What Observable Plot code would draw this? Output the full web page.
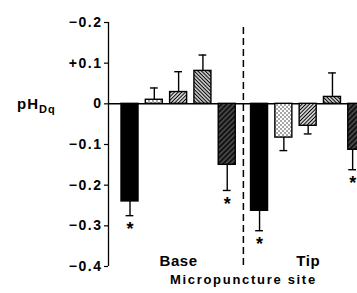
<!DOCTYPE html>
<html><head><meta charset="utf-8">
<script src="https://cdn.jsdelivr.net/npm/d3@7"></script>
<script src="https://cdn.jsdelivr.net/npm/@observablehq/plot@0.6"></script>
<style>
html,body{margin:0;padding:0;background:#fff;overflow:hidden}
#chart svg{display:block}
</style></head>
<body>
<svg width="0" height="0" style="position:absolute">
<defs>
 <pattern id="dots" width="4" height="4" patternUnits="userSpaceOnUse">
  <rect width="4" height="4" fill="#fff"/>
  <circle cx="1" cy="1" r="0.65" fill="#000"/>
  <circle cx="3" cy="3" r="0.65" fill="#000"/>
 </pattern>
 <pattern id="hatchR" width="2.6" height="2.6" patternUnits="userSpaceOnUse" patternTransform="rotate(45)">
  <rect width="2.6" height="2.6" fill="#fff"/>
  <line x1="1.3" y1="0" x2="1.3" y2="2.6" stroke="#000" stroke-width="1.2"/>
 </pattern>
 <pattern id="hatchL" width="2.6" height="2.6" patternUnits="userSpaceOnUse" patternTransform="rotate(-45)">
  <rect width="2.6" height="2.6" fill="#fff"/>
  <line x1="1.3" y1="0" x2="1.3" y2="2.6" stroke="#000" stroke-width="1.3"/>
 </pattern>
 <pattern id="dark" width="3.6" height="3.6" patternUnits="userSpaceOnUse" patternTransform="rotate(45)">
  <rect width="3.6" height="3.6" fill="#111"/>
  <line x1="1.8" y1="0" x2="1.8" y2="3.6" stroke="#999" stroke-width="0.7"/>
 </pattern>
</defs></svg>
<div id="chart"></div>
<script>
const sites = ["Base", "Tip"];
const treatments = ["solid", "stippled", "hatched", "backhatched", "dark"];
const fills = ["#000", "url(#dots)", "url(#hatchR)", "url(#hatchL)", "url(#dark)"];
const baseMeans = [-0.240, 0.010, 0.029, 0.081, -0.150];
const baseErrors = [0.035, 0.029, 0.050, 0.039, 0.063];
const baseSignificant = [true, false, false, false, true];
const tipMeans = [-0.263, -0.083, -0.054, 0.017, -0.113];
const tipErrors = [0.049, 0.032, 0.020, 0.059, 0.049];
const tipSignificant = [true, false, false, false, true];
const yTicks = [0.2, 0.1, 0, -0.1, -0.2, -0.3, -0.4];
const yTickLabels = ["\u22120.2", "+0.1", "0", "\u22120.1", "\u22120.2", "\u22120.3", "\u22120.4"];
const xLabel = "Micropuncture site";

const groupStride = 5.33;
const barHalf = 0.35, capHalf = 0.16;
const xDomain = [-0.885, 9.36];
const divider = (4 + groupStride) / 2;
// error bars and stars are kept inside the visible plot area
const markX = d => Math.min(d.pos, xDomain[1] - 0.2);

const meansBySite = [baseMeans, tipMeans];
const errBySite = [baseErrors, tipErrors];
const sigBySite = [baseSignificant, tipSignificant];
const rows = sites.flatMap((s, si) => treatments.map((t, i) => {
  const mean = meansBySite[si][i], err = errBySite[si][i];
  return {site: s, treatment: t, pos: si * groupStride + i, mean, end: mean + Math.sign(mean) * err, sig: sigBySite[si][i]};
}));

const font = "'Liberation Sans', Arial, Helvetica, sans-serif";
const chart = Plot.plot({
  width: 357, height: 293,
  marginLeft: 108, marginRight: 0, marginTop: 22, marginBottom: 27,
  x: {domain: xDomain, axis: null},
  y: {domain: [-0.4, 0.2], axis: null},
  color: {domain: treatments, range: fills},
  style: {fontFamily: font, color: "#000", background: "#fff", overflow: "hidden"},
  marks: [
    Plot.axisY({ticks: yTicks, tickFormat: d => yTickLabels[yTicks.indexOf(d)], tickSize: 4, tickPadding: 2, fontSize: 14, fontWeight: "bold", label: null, strokeWidth: 1.2}),
    Plot.ruleX([xDomain[0]], {strokeWidth: 1.3}),
    Plot.ruleY([0], {strokeWidth: 1.5}),
    Plot.ruleX([divider], {strokeDasharray: "7,4", strokeWidth: 1.5, insetTop: 5}),
    Plot.rect(rows, {x1: d => d.pos - barHalf, x2: d => d.pos + barHalf, y1: 0, y2: "mean", fill: "treatment", stroke: "#000", strokeWidth: 1.4}),
    Plot.ruleX(rows, {x: markX, y1: "mean", y2: "end", strokeWidth: 1.4}),
    Plot.ruleY(rows, {y: "end", x1: d => markX(d) - capHalf, x2: d => markX(d) + capHalf, strokeWidth: 1.4}),
    Plot.text(rows.filter(d => d.sig), {x: markX, y: "end", text: () => "*", dy: 14, fontSize: 18, fontWeight: "bold"}),
    Plot.text(sites, {x: (d, i) => i * groupStride + 2, frameAnchor: "bottom", text: d => d, dy: -1, fontSize: 15, fontWeight: "bold"}),
    Plot.text([xLabel], {x: divider, frameAnchor: "bottom", text: d => d, dy: 17, fontSize: 13, fontWeight: "bold"})
  ]
});
document.getElementById("chart").appendChild(chart);

const svg = d3.select(chart);
const spacing = new Map([[xLabel, "1.7px"], ["Base", "0.6px"], ["Tip", "0.6px"]]);
yTickLabels.forEach(l => spacing.set(l, "1.5px"));
svg.selectAll("text").each(function() {
  const s = spacing.get(this.textContent);
  if (s) this.style.letterSpacing = s;
});

const y0 = chart.scale("y").apply(0);
const lab = svg.append("text")
  .attr("x", 17).attr("y", y0 + 6).attr("text-anchor", "start")
  .attr("font-family", font).attr("font-size", 15).attr("font-weight", "bold")
  .attr("fill", "#000").style("letter-spacing", "1px");
lab.append("tspan").text("pH");
lab.append("tspan").attr("font-size", 11).attr("dy", 4).text("Dq");
</script>
</body></html>
